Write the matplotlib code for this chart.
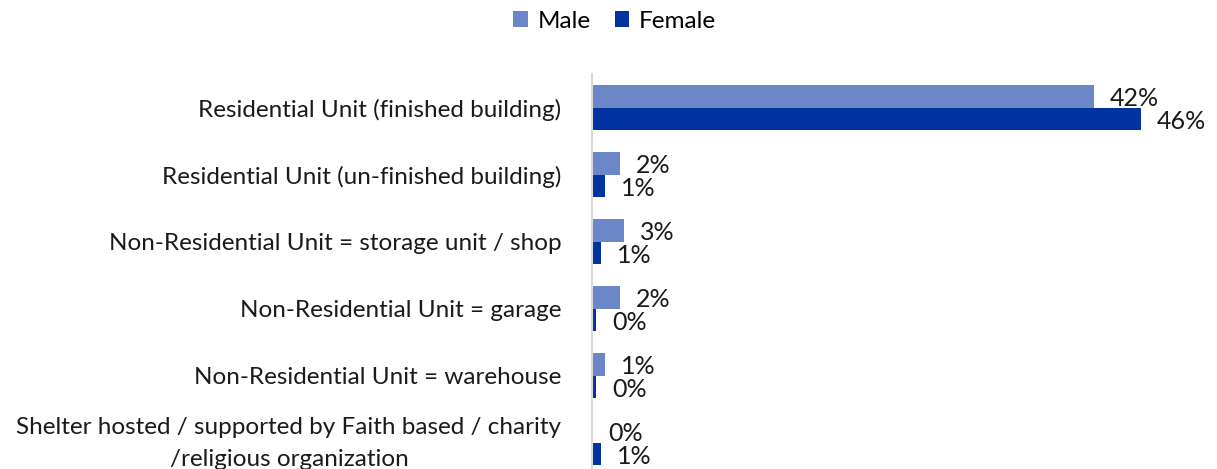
import matplotlib
matplotlib.use('Agg')
import matplotlib.pyplot as plt
import numpy as np

plt.rcParams['font.family'] = ['Lato', 'DejaVu Sans']

categories = ['Residential Unit (finished building)',
              'Residential Unit (un-finished building)',
              'Non-Residential Unit = storage unit / shop',
              'Non-Residential Unit = garage',
              'Non-Residential Unit = warehouse',
              'Shelter hosted / supported by Faith based / charity\n/religious organization']
male = [42.1, 2.35, 2.7, 2.35, 1.1, 0.0]
female = [46.0, 1.1, 0.73, 0.33, 0.33, 0.73]
male_labels = ['42%', '2%', '3%', '2%', '1%', '0%']
female_labels = ['46%', '1%', '1%', '0%', '0%', '1%']

male_color = '#6C87C8'
female_color = '#0033A0'

fig = plt.figure(figsize=(12.17, 4.69), dpi=100)
ax = fig.add_axes([0.4864, -0.015, 0.49, 0.857])

y = np.arange(len(categories))
h = 0.34
ax.barh(y - h/2, male, height=h, color=male_color, label='Male')
ax.barh(y + h/2, female, height=h, color=female_color, label='Female')

for yi, v, s in zip(y, male, male_labels):
    ax.annotate(s, (v, yi - h/2), xytext=(16, -2), textcoords='offset pixels',
                ha='left', va='center', fontsize=18, color='#1a1a1a')
for yi, v, s in zip(y, female, female_labels):
    ax.annotate(s, (v, yi + h/2), xytext=(16, -3), textcoords='offset pixels',
                ha='left', va='center', fontsize=18, color='#1a1a1a')

ax.set_xlim(0, 50)
ax.set_ylim(len(categories) - 0.5, -0.5)
# the two-line label sits a little higher than its bars
tick_pos = list(y[:-1]) + [y[-1] - 0.1]
ax.set_yticks(tick_pos)
ax.set_yticklabels(categories, fontsize=17.5, color='#1a1a1a',
                   multialignment='center', linespacing=1.65)
ax.tick_params(axis='y', length=0, pad=22)
ax.set_xticks([])
for side in ['top', 'right', 'bottom']:
    ax.spines[side].set_visible(False)
ax.spines['left'].set_color('#d9d9d9')
ax.spines['left'].set_linewidth(1.5)

fig.legend(loc='center', bbox_to_anchor=(0.505, 0.955), ncol=2, frameon=False,
           fontsize=17.5, handlelength=0.6, handleheight=0.6, handletextpad=0.4,
           columnspacing=1.0)

fig.savefig('out.png', dpi=100)
